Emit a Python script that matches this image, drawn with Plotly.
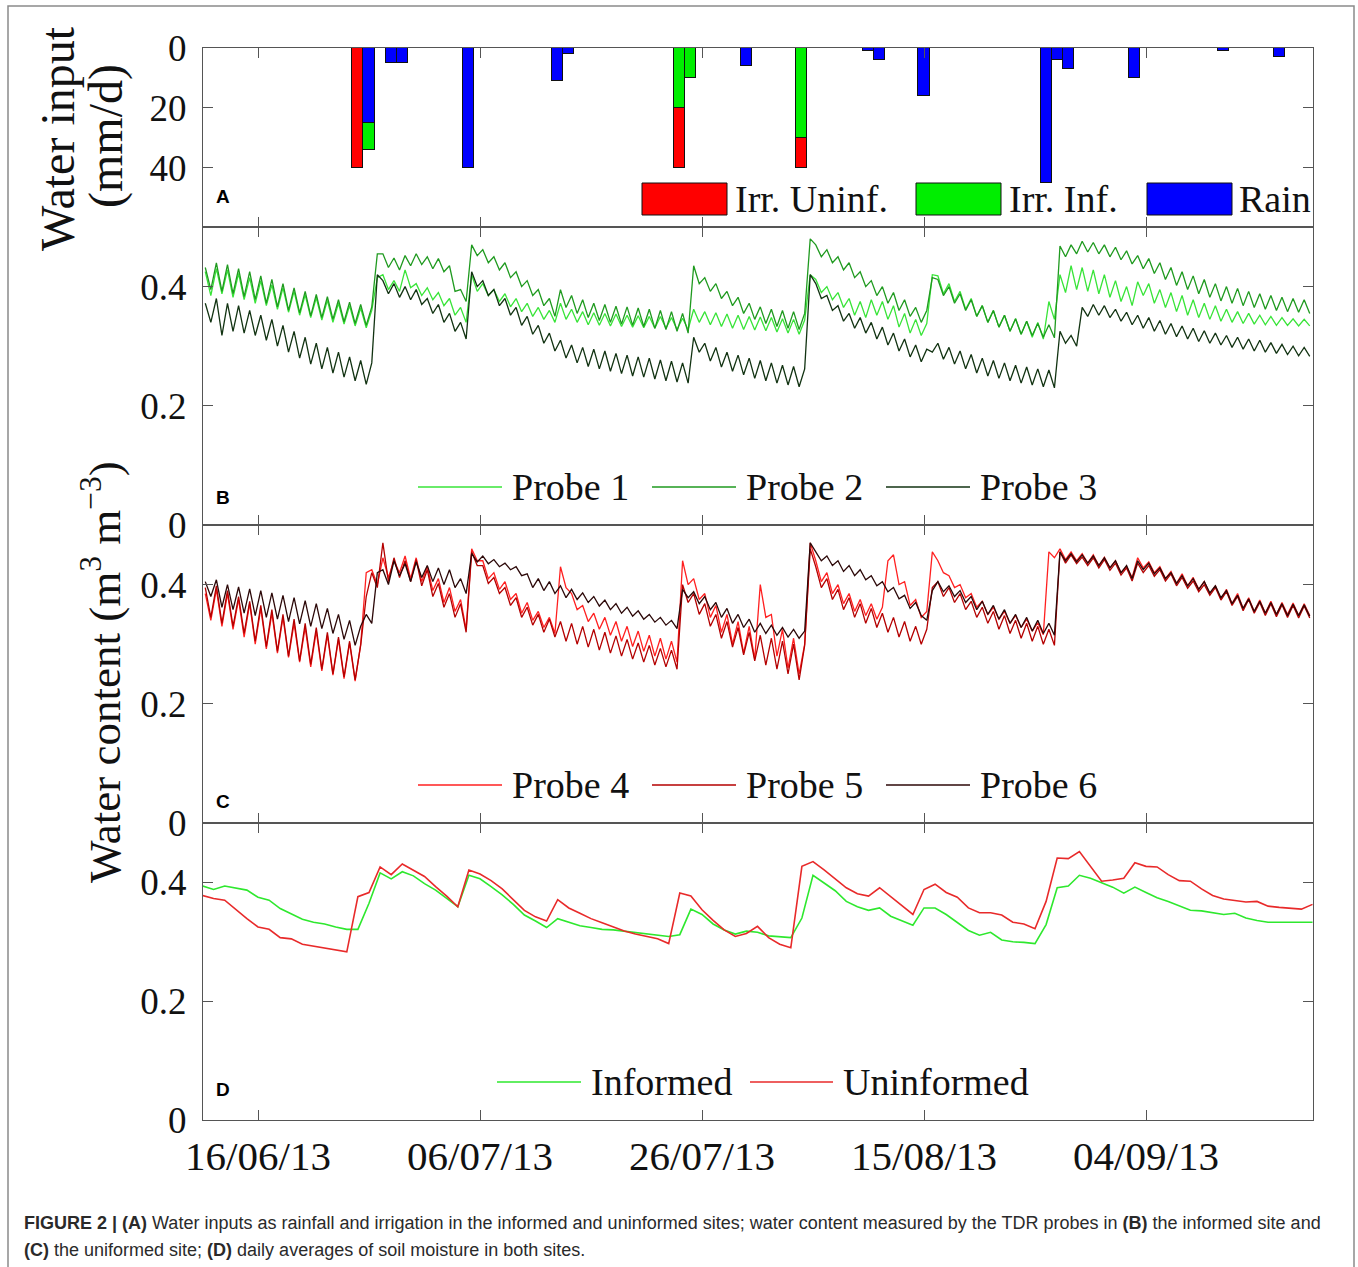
import numpy as np
import pandas as pd
import plotly.graph_objects as go

W, H = 1358, 1267

# ---------------- Panel A: water inputs (mm/d) ----------------
bar_dates = ["2013-06-25", "2013-06-26", "2013-06-28", "2013-06-29", "2013-07-05",
             "2013-07-13", "2013-07-14", "2013-07-24", "2013-07-25", "2013-07-30",
             "2013-08-04", "2013-08-10", "2013-08-11", "2013-08-15", "2013-08-26",
             "2013-08-27", "2013-08-28", "2013-09-03", "2013-09-11", "2013-09-16"]
rain =       [0, 25, 5, 5, 40, 11, 2, 0, 0, 6, 0, 1, 4, 16, 45, 4, 7, 10, 1, 3]
irr_inf =    [0, 9, 0, 0, 0, 0, 0, 20, 10, 0, 30, 0, 0, 0, 0, 0, 0, 0, 0, 0]
irr_uninf =  [40, 0, 0, 0, 0, 0, 0, 20, 0, 0, 10, 0, 0, 0, 0, 0, 0, 0, 0, 0]

# ---------------- Panels B, C: probe readings (night high / day low), 11/06 .. 18/09 ----------------
p1_hi = [0.425, 0.430, 0.428, 0.422, 0.415, 0.410, 0.403, 0.398, 0.392, 0.386,
         0.381, 0.377, 0.372, 0.368, 0.364, 0.360, 0.420, 0.410, 0.428, 0.405,
         0.398, 0.390, 0.380, 0.365, 0.420, 0.405, 0.395, 0.388, 0.380, 0.372,
         0.365, 0.360, 0.372, 0.362, 0.358, 0.356, 0.355, 0.354, 0.352, 0.351,
         0.350, 0.350, 0.348, 0.347, 0.362, 0.358, 0.356, 0.354, 0.352, 0.350,
         0.349, 0.348, 0.346, 0.345, 0.344, 0.412, 0.400, 0.390, 0.380, 0.375,
         0.378, 0.375, 0.368, 0.355, 0.345, 0.338, 0.418, 0.405, 0.392, 0.380,
         0.368, 0.360, 0.352, 0.346, 0.342, 0.340, 0.375, 0.420, 0.435, 0.432,
         0.428, 0.420, 0.410, 0.400, 0.408, 0.405, 0.395, 0.390, 0.385, 0.378,
         0.372, 0.368, 0.362, 0.358, 0.355, 0.352, 0.350, 0.348, 0.346, 0.345]
p1_lo = [0.385, 0.388, 0.382, 0.378, 0.372, 0.368, 0.362, 0.357, 0.352, 0.348,
         0.344, 0.340, 0.337, 0.334, 0.331, 0.415, 0.395, 0.392, 0.398, 0.385,
         0.378, 0.368, 0.352, 0.340, 0.392, 0.385, 0.375, 0.366, 0.358, 0.350,
         0.345, 0.340, 0.345, 0.340, 0.336, 0.335, 0.334, 0.333, 0.332, 0.331,
         0.330, 0.330, 0.328, 0.328, 0.340, 0.336, 0.333, 0.330, 0.328, 0.327,
         0.326, 0.324, 0.322, 0.320, 0.420, 0.390, 0.378, 0.365, 0.352, 0.348,
         0.352, 0.345, 0.332, 0.322, 0.318, 0.420, 0.388, 0.375, 0.362, 0.350,
         0.340, 0.332, 0.325, 0.320, 0.315, 0.312, 0.345, 0.390, 0.395, 0.392,
         0.388, 0.382, 0.375, 0.368, 0.385, 0.372, 0.365, 0.358, 0.352, 0.348,
         0.345, 0.342, 0.340, 0.338, 0.337, 0.336, 0.335, 0.335, 0.334, 0.334]
p2_hi = [0.432, 0.440, 0.437, 0.430, 0.425, 0.418, 0.412, 0.405, 0.398, 0.392,
         0.387, 0.383, 0.378, 0.374, 0.370, 0.366, 0.455, 0.448, 0.452, 0.455,
         0.450, 0.447, 0.435, 0.395, 0.470, 0.462, 0.450, 0.440, 0.425, 0.410,
         0.395, 0.380, 0.395, 0.385, 0.378, 0.372, 0.370, 0.367, 0.366, 0.364,
         0.362, 0.360, 0.358, 0.355, 0.435, 0.415, 0.405, 0.392, 0.382, 0.372,
         0.366, 0.362, 0.360, 0.358, 0.355, 0.470, 0.462, 0.450, 0.440, 0.425,
         0.410, 0.400, 0.390, 0.378, 0.365, 0.360, 0.412, 0.400, 0.388, 0.378,
         0.368, 0.360, 0.352, 0.346, 0.342, 0.338, 0.336, 0.468, 0.470, 0.476,
         0.474, 0.470, 0.466, 0.460, 0.452, 0.447, 0.440, 0.432, 0.425, 0.418,
         0.412, 0.405, 0.400, 0.397, 0.392, 0.388, 0.385, 0.382, 0.380, 0.378]
p2_lo = [0.395, 0.392, 0.388, 0.383, 0.378, 0.372, 0.366, 0.360, 0.356, 0.351,
         0.348, 0.345, 0.341, 0.338, 0.335, 0.455, 0.432, 0.428, 0.435, 0.437,
         0.430, 0.425, 0.392, 0.375, 0.452, 0.440, 0.428, 0.415, 0.400, 0.385,
         0.368, 0.350, 0.365, 0.355, 0.348, 0.343, 0.340, 0.337, 0.335, 0.333,
         0.330, 0.328, 0.325, 0.322, 0.405, 0.392, 0.380, 0.368, 0.355, 0.345,
         0.338, 0.333, 0.330, 0.328, 0.480, 0.450, 0.440, 0.428, 0.415, 0.400,
         0.385, 0.372, 0.360, 0.350, 0.340, 0.415, 0.385, 0.372, 0.360, 0.350,
         0.340, 0.332, 0.325, 0.320, 0.318, 0.315, 0.314, 0.450, 0.455, 0.458,
         0.455, 0.450, 0.445, 0.438, 0.430, 0.422, 0.412, 0.402, 0.395, 0.388,
         0.382, 0.376, 0.372, 0.368, 0.365, 0.362, 0.360, 0.358, 0.357, 0.355]
p3_hi = [0.372, 0.380, 0.372, 0.368, 0.360, 0.352, 0.345, 0.335, 0.325, 0.315,
         0.305, 0.298, 0.290, 0.282, 0.276, 0.272, 0.410, 0.405, 0.400, 0.395,
         0.380, 0.370, 0.355, 0.340, 0.425, 0.410, 0.395, 0.380, 0.365, 0.350,
         0.335, 0.322, 0.310, 0.302, 0.298, 0.295, 0.292, 0.288, 0.285, 0.282,
         0.280, 0.277, 0.275, 0.272, 0.315, 0.305, 0.298, 0.290, 0.285, 0.280,
         0.276, 0.272, 0.268, 0.266, 0.262, 0.405, 0.385, 0.368, 0.355, 0.348,
         0.340, 0.332, 0.322, 0.312, 0.302, 0.295, 0.305, 0.298, 0.292, 0.286,
         0.280, 0.276, 0.272, 0.268, 0.265, 0.262, 0.260, 0.325, 0.318, 0.365,
         0.370, 0.368, 0.362, 0.357, 0.352, 0.348, 0.343, 0.338, 0.334, 0.330,
         0.326, 0.322, 0.318, 0.315, 0.312, 0.310, 0.306, 0.303, 0.300, 0.298]
p3_lo = [0.340, 0.318, 0.325, 0.322, 0.318, 0.310, 0.300, 0.290, 0.280, 0.270,
         0.262, 0.255, 0.248, 0.242, 0.236, 0.420, 0.388, 0.382, 0.378, 0.370,
         0.355, 0.340, 0.325, 0.312, 0.400, 0.385, 0.368, 0.352, 0.335, 0.320,
         0.305, 0.292, 0.280, 0.272, 0.266, 0.262, 0.258, 0.254, 0.250, 0.248,
         0.245, 0.242, 0.240, 0.238, 0.290, 0.275, 0.265, 0.258, 0.252, 0.246,
         0.242, 0.238, 0.235, 0.232, 0.420, 0.380, 0.360, 0.342, 0.330, 0.322,
         0.312, 0.302, 0.292, 0.282, 0.274, 0.290, 0.278, 0.270, 0.262, 0.255,
         0.250, 0.246, 0.242, 0.238, 0.235, 0.232, 0.230, 0.305, 0.300, 0.350,
         0.352, 0.348, 0.342, 0.336, 0.330, 0.325, 0.320, 0.316, 0.312, 0.308,
         0.305, 0.302, 0.298, 0.295, 0.292, 0.290, 0.288, 0.286, 0.284, 0.283]
p4_hi = [0.385, 0.392, 0.385, 0.375, 0.368, 0.360, 0.352, 0.345, 0.335, 0.328,
         0.322, 0.315, 0.308, 0.302, 0.300, 0.425, 0.445, 0.440, 0.448, 0.445,
         0.430, 0.410, 0.395, 0.375, 0.460, 0.440, 0.420, 0.405, 0.385, 0.370,
         0.355, 0.345, 0.430, 0.385, 0.365, 0.352, 0.345, 0.338, 0.330, 0.322,
         0.315, 0.310, 0.305, 0.440, 0.410, 0.385, 0.365, 0.350, 0.338, 0.330,
         0.400, 0.350, 0.325, 0.310, 0.300, 0.440, 0.420, 0.400, 0.385, 0.375,
         0.368, 0.362, 0.450, 0.405, 0.375, 0.355, 0.440, 0.415, 0.400, 0.385,
         0.372, 0.362, 0.355, 0.348, 0.342, 0.336, 0.455, 0.460, 0.455, 0.452,
         0.450, 0.446, 0.440, 0.430, 0.445, 0.438, 0.430, 0.422, 0.418, 0.412,
         0.405, 0.398, 0.392, 0.385, 0.378, 0.374, 0.372, 0.370, 0.369, 0.368]
p4_lo = [0.340, 0.330, 0.325, 0.312, 0.300, 0.292, 0.285, 0.278, 0.270, 0.262,
         0.255, 0.248, 0.242, 0.238, 0.420, 0.400, 0.412, 0.420, 0.410, 0.405,
         0.390, 0.370, 0.355, 0.325, 0.440, 0.410, 0.392, 0.375, 0.352, 0.340,
         0.328, 0.318, 0.395, 0.358, 0.338, 0.325, 0.315, 0.305, 0.296, 0.288,
         0.280, 0.275, 0.270, 0.400, 0.375, 0.345, 0.320, 0.300, 0.285, 0.275,
         0.345, 0.280, 0.260, 0.250, 0.470, 0.405, 0.385, 0.368, 0.355, 0.348,
         0.342, 0.440, 0.400, 0.365, 0.345, 0.455, 0.420, 0.395, 0.378, 0.362,
         0.350, 0.342, 0.335, 0.328, 0.322, 0.316, 0.445, 0.442, 0.440, 0.436,
         0.432, 0.428, 0.420, 0.412, 0.428, 0.420, 0.410, 0.402, 0.398, 0.392,
         0.385, 0.376, 0.368, 0.360, 0.355, 0.352, 0.350, 0.350, 0.348, 0.348]
p5_hi = [0.395, 0.398, 0.390, 0.380, 0.372, 0.365, 0.358, 0.350, 0.342, 0.335,
         0.328, 0.320, 0.312, 0.305, 0.298, 0.420, 0.470, 0.445, 0.440, 0.442,
         0.425, 0.402, 0.385, 0.368, 0.455, 0.432, 0.412, 0.395, 0.378, 0.362,
         0.350, 0.342, 0.338, 0.335, 0.330, 0.325, 0.320, 0.314, 0.308, 0.302,
         0.298, 0.293, 0.290, 0.400, 0.385, 0.368, 0.350, 0.338, 0.328, 0.320,
         0.315, 0.310, 0.305, 0.300, 0.298, 0.430, 0.410, 0.392, 0.378, 0.368,
         0.360, 0.352, 0.345, 0.338, 0.330, 0.325, 0.405, 0.395, 0.385, 0.372,
         0.362, 0.355, 0.348, 0.340, 0.335, 0.330, 0.325, 0.455, 0.450, 0.446,
         0.445, 0.442, 0.436, 0.428, 0.436, 0.432, 0.425, 0.418, 0.412, 0.406,
         0.400, 0.395, 0.388, 0.380, 0.375, 0.370, 0.368, 0.366, 0.365, 0.364]
p5_lo = [0.345, 0.335, 0.330, 0.318, 0.305, 0.296, 0.288, 0.280, 0.272, 0.266,
         0.258, 0.250, 0.245, 0.240, 0.380, 0.395, 0.405, 0.412, 0.405, 0.398,
         0.380, 0.362, 0.345, 0.320, 0.432, 0.402, 0.385, 0.365, 0.345, 0.332,
         0.320, 0.312, 0.305, 0.300, 0.295, 0.290, 0.285, 0.280, 0.275, 0.270,
         0.265, 0.262, 0.258, 0.370, 0.350, 0.330, 0.310, 0.295, 0.282, 0.272,
         0.265, 0.258, 0.250, 0.240, 0.460, 0.395, 0.375, 0.358, 0.345, 0.335,
         0.328, 0.320, 0.312, 0.305, 0.300, 0.395, 0.380, 0.370, 0.358, 0.345,
         0.335, 0.325, 0.318, 0.310, 0.305, 0.300, 0.298, 0.436, 0.435, 0.432,
         0.428, 0.424, 0.416, 0.406, 0.420, 0.414, 0.406, 0.398, 0.394, 0.388,
         0.382, 0.374, 0.365, 0.356, 0.352, 0.348, 0.346, 0.345, 0.344, 0.344]
p6_hi = [0.405, 0.408, 0.400, 0.396, 0.393, 0.390, 0.386, 0.382, 0.378, 0.373,
         0.368, 0.360, 0.350, 0.340, 0.330, 0.335, 0.425, 0.440, 0.435, 0.438,
         0.432, 0.428, 0.425, 0.410, 0.452, 0.448, 0.442, 0.436, 0.430, 0.418,
         0.410, 0.405, 0.398, 0.392, 0.386, 0.380, 0.374, 0.368, 0.362, 0.356,
         0.350, 0.345, 0.340, 0.392, 0.388, 0.380, 0.370, 0.360, 0.350, 0.342,
         0.335, 0.332, 0.328, 0.325, 0.322, 0.455, 0.448, 0.440, 0.432, 0.425,
         0.415, 0.405, 0.395, 0.382, 0.370, 0.340, 0.405, 0.398, 0.390, 0.380,
         0.372, 0.365, 0.358, 0.350, 0.345, 0.340, 0.335, 0.455, 0.452, 0.450,
         0.448, 0.445, 0.440, 0.432, 0.440, 0.436, 0.428, 0.420, 0.415, 0.410,
         0.405, 0.398, 0.390, 0.382, 0.376, 0.372, 0.370, 0.368, 0.367, 0.366]
p6_lo = [0.380, 0.362, 0.358, 0.352, 0.348, 0.345, 0.342, 0.338, 0.334, 0.330,
         0.326, 0.318, 0.308, 0.298, 0.350, 0.420, 0.400, 0.415, 0.405, 0.412,
         0.405, 0.400, 0.395, 0.385, 0.438, 0.435, 0.430, 0.425, 0.415, 0.395,
         0.390, 0.385, 0.378, 0.375, 0.370, 0.364, 0.358, 0.352, 0.347, 0.342,
         0.337, 0.332, 0.326, 0.378, 0.368, 0.358, 0.345, 0.335, 0.328, 0.320,
         0.318, 0.315, 0.312, 0.310, 0.470, 0.440, 0.432, 0.422, 0.415, 0.408,
         0.398, 0.388, 0.376, 0.360, 0.348, 0.390, 0.388, 0.380, 0.370, 0.358,
         0.350, 0.342, 0.335, 0.328, 0.322, 0.318, 0.315, 0.440, 0.438, 0.436,
         0.432, 0.428, 0.420, 0.410, 0.425, 0.418, 0.410, 0.402, 0.398, 0.392,
         0.386, 0.378, 0.368, 0.360, 0.355, 0.352, 0.350, 0.348, 0.348, 0.347]

# ---------------- Panel D: daily averages, 11/06 .. 19/09 ----------------
informed = [0.394, 0.388, 0.394, 0.391, 0.387, 0.375, 0.370, 0.356, 0.347, 0.338,
            0.333, 0.330, 0.325, 0.321, 0.321, 0.365, 0.416, 0.406, 0.418, 0.411,
            0.398, 0.387, 0.373, 0.359, 0.412, 0.406, 0.393, 0.379, 0.363, 0.345,
            0.335, 0.324, 0.339, 0.333, 0.327, 0.324, 0.321, 0.320, 0.318, 0.316,
            0.314, 0.311, 0.309, 0.312, 0.355, 0.346, 0.330, 0.320, 0.313, 0.318,
            0.316, 0.310, 0.309, 0.307, 0.340, 0.412, 0.399, 0.386, 0.368, 0.359,
            0.353, 0.357, 0.343, 0.335, 0.328, 0.357, 0.357, 0.346, 0.333, 0.319,
            0.311, 0.316, 0.303, 0.300, 0.299, 0.297, 0.329, 0.391, 0.394, 0.412,
            0.407, 0.400, 0.392, 0.382, 0.392, 0.383, 0.374, 0.368, 0.361, 0.353,
            0.352, 0.349, 0.346, 0.348, 0.340, 0.336, 0.333, 0.333, 0.333, 0.333, 0.333]
uninformed = [0.378, 0.373, 0.370, 0.354, 0.339, 0.325, 0.321, 0.307, 0.305, 0.296,
              0.293, 0.290, 0.286, 0.283, 0.376, 0.383, 0.426, 0.413, 0.431, 0.421,
              0.410, 0.393, 0.377, 0.359, 0.421, 0.414, 0.403, 0.389, 0.371, 0.353,
              0.342, 0.335, 0.371, 0.357, 0.348, 0.339, 0.332, 0.325, 0.318, 0.313,
              0.309, 0.305, 0.297, 0.382, 0.377, 0.354, 0.336, 0.320, 0.309, 0.314,
              0.326, 0.307, 0.296, 0.290, 0.427, 0.435, 0.421, 0.406, 0.391, 0.381,
              0.377, 0.391, 0.376, 0.360, 0.346, 0.388, 0.397, 0.383, 0.375, 0.357,
              0.349, 0.349, 0.345, 0.333, 0.330, 0.322, 0.368, 0.441, 0.440, 0.452,
              0.427, 0.402, 0.404, 0.407, 0.433, 0.427, 0.426, 0.413, 0.403, 0.402,
              0.389, 0.378, 0.372, 0.369, 0.367, 0.368, 0.360, 0.358, 0.357, 0.355, 0.363]

x_ticks_text = ["16/06/13", "06/07/13", "26/07/13", "15/08/13", "04/09/13"]

# ---------------- time stamps ----------------
base = pd.Timestamp("2013-06-16")
probe_days = np.arange(-5, 95)
t_hi = base + pd.to_timedelta(probe_days + 0.25, unit="D")
t_lo = base + pd.to_timedelta(probe_days + 0.75, unit="D")
t_probe = [t for pair in zip(t_hi, t_lo) for t in pair]

def interleave(hi, lo):
    return [v for pair in zip(hi, lo) for v in pair]

t_daily = base + pd.to_timedelta(np.arange(-5, 96), unit="D")
tick_dates = [base + pd.Timedelta(days=20 * i) for i in range(5)]

SERIF = "Liberation Serif, Times New Roman, serif"
SANS = "Liberation Sans, Arial, sans-serif"
AX = "#555555"

fig = go.Figure()

day_ms = 86400000
fig.add_trace(go.Bar(x=bar_dates, y=rain, width=day_ms, marker=dict(color="#0000ff", line=dict(color="#111", width=1)),
                     xaxis="x", yaxis="y", name="Rain"))
fig.add_trace(go.Bar(x=bar_dates, y=irr_inf, width=day_ms, marker=dict(color="#00ee00", line=dict(color="#111", width=1)),
                     xaxis="x", yaxis="y", name="Irr. Inf."))
fig.add_trace(go.Bar(x=bar_dates, y=irr_uninf, width=day_ms, marker=dict(color="#ff0000", line=dict(color="#111", width=1)),
                     xaxis="x", yaxis="y", name="Irr. Uninf."))

col = {"p1": "#38e438", "p2": "#1f9a1f", "p3": "#123312",
       "p4": "#ff2020", "p5": "#b40000", "p6": "#2c0808",
       "inf": "#2ee82e", "uninf": "#e82a2a"}

for name, hi, lo, c in [("Probe 1", p1_hi, p1_lo, col["p1"]), ("Probe 2", p2_hi, p2_lo, col["p2"]),
                        ("Probe 3", p3_hi, p3_lo, col["p3"])]:
    fig.add_trace(go.Scatter(x=t_probe, y=interleave(hi, lo), mode="lines", line=dict(color=c, width=1.3),
                             xaxis="x2", yaxis="y2", name=name))
for name, hi, lo, c in [("Probe 4", p4_hi, p4_lo, col["p4"]), ("Probe 5", p5_hi, p5_lo, col["p5"]),
                        ("Probe 6", p6_hi, p6_lo, col["p6"])]:
    fig.add_trace(go.Scatter(x=t_probe, y=interleave(hi, lo), mode="lines", line=dict(color=c, width=1.3),
                             xaxis="x3", yaxis="y3", name=name))

fig.add_trace(go.Scatter(x=t_daily, y=informed, mode="lines", line=dict(color=col["inf"], width=1.6),
                         xaxis="x4", yaxis="y4", name="Informed"))
fig.add_trace(go.Scatter(x=t_daily, y=uninformed, mode="lines", line=dict(color=col["uninf"], width=1.6),
                         xaxis="x4", yaxis="y4", name="Uninformed"))

def fx(px):
    return px / W

def fy(py):
    return 1 - py / H

xdom = [fx(203), fx(1313)]
xrange_ = [base - pd.Timedelta(days=4.955), base + pd.Timedelta(days=95.045)]

common_x = dict(type="date", range=xrange_, domain=xdom, showline=True, linecolor=AX, linewidth=1.3,
                mirror="ticks", ticks="inside", ticklen=10, tickcolor=AX, tickwidth=1.2,
                tickvals=tick_dates, ticktext=x_ticks_text, showgrid=False, zeroline=False,
                automargin=False, tickfont=dict(family=SERIF, size=41, color="#111"))
common_y = dict(showline=True, linecolor=AX, linewidth=1.3, mirror="ticks", ticks="inside", ticklen=10,
                tickcolor=AX, tickwidth=1.2, showgrid=False, zeroline=False, automargin=False,
                tickfont=dict(family=SERIF, size=37, color="#111"), ticklabelstandoff=8)

panels = [(48, 227), (227, 525), (525, 823), (823, 1120)]
layout = dict(width=W, height=H, margin=dict(l=0, r=0, t=0, b=0, pad=0), paper_bgcolor="white",
              plot_bgcolor="white", showlegend=False, barmode="stack", bargap=0, autosize=False)
for i, (top, bot) in enumerate(panels):
    sx = "" if i == 0 else str(i + 1)
    xa = dict(common_x)
    xa["anchor"] = "y" + sx
    xa["showticklabels"] = (i == 3)
    xa["ticklabelstandoff"] = 0
    if i > 0:
        xa["matches"] = "x"
    ya = dict(common_y)
    ya["anchor"] = "x" + sx
    ya["domain"] = [fy(bot), fy(top)]
    if i == 0:
        ya["range"] = [59.7, 0]
        ya["tickvals"] = [0, 20, 40]
        ya["ticktext"] = ["0", "20", "40"]
    else:
        ya["range"] = [0, 0.5]
        ya["tickvals"] = [0, 0.2, 0.4]
        ya["ticktext"] = ["0", "0.2", "0.4"]
    layout["xaxis" + sx] = xa
    layout["yaxis" + sx] = ya
fig.update_layout(**layout)

shapes = []
annotations = []

# outer frame
shapes.append(dict(type="rect", xref="paper", yref="paper", x0=fx(8), x1=fx(1354), y0=fy(1290), y1=fy(6),
                   line=dict(color="#8a8a8a", width=1.5), fillcolor="rgba(0,0,0,0)", layer="below"))

def text(x, y, s, size=38, family=SERIF, xanchor="left", color="#111", angle=0):
    annotations.append(dict(x=fx(x), y=fy(y), xref="paper", yref="paper", text=s, showarrow=False,
                            xanchor=xanchor, yanchor="middle", textangle=angle,
                            font=dict(family=family, size=size, color=color)))

# Panel A legend
for (x0, x1, c, lbl, tx) in [(642, 727, "#ff0000", "Irr. Uninf.", 733), (916, 1001, "#00ee00", "Irr. Inf.", 1007),
                             (1147, 1232, "#0000ff", "Rain", 1237)]:
    shapes.append(dict(type="rect", xref="paper", yref="paper", x0=fx(x0), x1=fx(x1), y0=fy(215), y1=fy(183),
                       fillcolor=c, line=dict(color="#111", width=1)))
    text(tx, 199, lbl)

# line legends
def line_legend(y, items):
    for (x0, x1, c, lbl) in items:
        shapes.append(dict(type="line", xref="paper", yref="paper", x0=fx(x0), x1=fx(x1), y0=fy(y), y1=fy(y),
                           line=dict(color=c, width=1.5)))
        text(x1 + 8, y, lbl)

line_legend(487, [(418, 502, col["p1"], "Probe 1"), (652, 736, col["p2"], "Probe 2"), (886, 970, col["p3"], "Probe 3")])
line_legend(785, [(418, 502, col["p4"], "Probe 4"), (652, 736, col["p5"], "Probe 5"), (886, 970, col["p6"], "Probe 6")])
line_legend(1082, [(497, 581, col["inf"], "Informed"), (750, 833, col["uninf"], "Uninformed")])

# panel letters
for lt, yy in [("A", 197), ("B", 497), ("C", 801), ("D", 1089)]:
    text(214, yy, "<b>%s</b>" % lt, size=19, family=SANS, color="#000")

# y titles
text(57, 138, "Water input", size=48, xanchor="center", angle=-90)
text(106, 136, "(mm/d)", size=48, xanchor="center", angle=-90)
text(101, 672, "Water content (m<sup>3</sup> m<sup>−3</sup>)", size=45, xanchor="center", angle=-90)

# caption
cap1 = ("<b>FIGURE 2 | (A)</b> Water inputs as rainfall and irrigation in the informed and uninformed sites; "
        "water content measured by the TDR probes in <b>(B)</b> the informed site and")
cap2 = "<b>(C)</b> the uniformed site; <b>(D)</b> daily averages of soil moisture in both sites."
text(22, 1223, cap1, size=18, family=SANS, color="#2a2a2a")
text(22, 1250, cap2, size=18, family=SANS, color="#2a2a2a")

fig.update_layout(shapes=shapes, annotations=annotations)
fig.write_html("out.html")
